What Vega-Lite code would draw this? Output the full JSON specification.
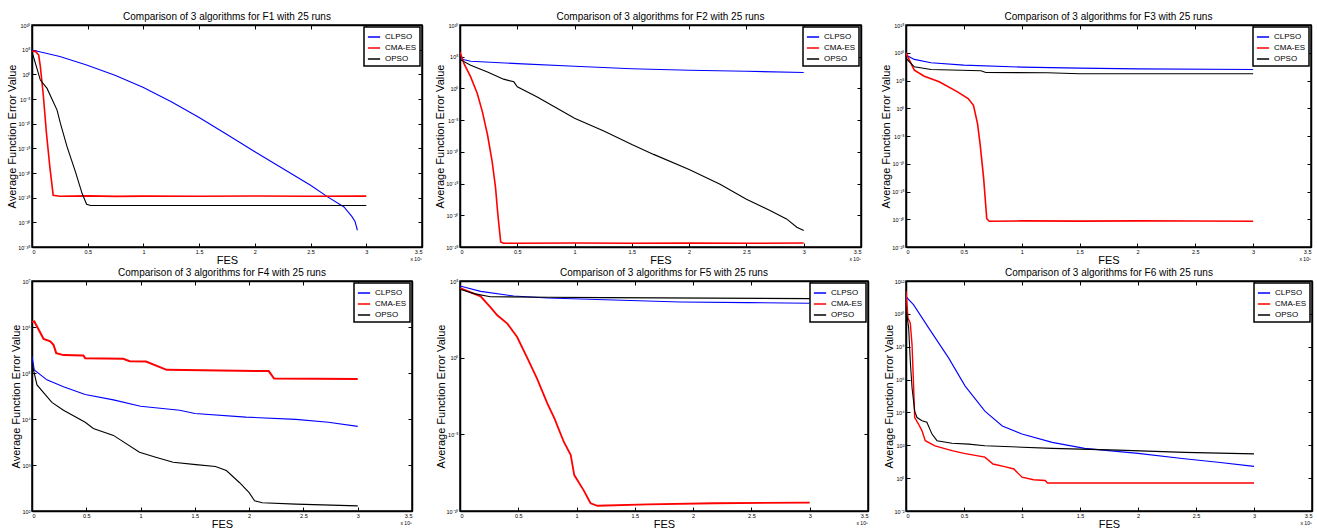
{
"$schema": "https://vega.github.io/schema/vega-lite/v6.json",
"background": "#ffffff",
"padding": {"left": 6, "top": 11, "right": 0, "bottom": 0},
"columns": 3,
"align": "none",
"bounds": "flush",
"spacing": {"row": 34, "column": 38},
"resolve": {"scale": {"color": "independent"}, "legend": {"color": "independent"}},
"datasets": {
"F1": [
{"a":"CLPSO","x":0,"y":8.5e4},{"a":"CLPSO","x":25000,"y":4e3},{"a":"CLPSO","x":49000,"y":76},{"a":"CLPSO","x":75000,"y":0.6},{"a":"CLPSO","x":100000,"y":2.2e-3},{"a":"CLPSO","x":125000,"y":2.8e-6},{"a":"CLPSO","x":150000,"y":1.8e-9},{"a":"CLPSO","x":175000,"y":6.3e-13},{"a":"CLPSO","x":200000,"y":2e-16},{"a":"CLPSO","x":225000,"y":7.9e-20},{"a":"CLPSO","x":250000,"y":3.2e-23},{"a":"CLPSO","x":265000,"y":1.6e-25},{"a":"CLPSO","x":280000,"y":1.3e-27},{"a":"CLPSO","x":287000,"y":1.6e-29},{"a":"CLPSO","x":290000,"y":1.3e-30},{"a":"CLPSO","x":292000,"y":2.5e-32},
{"a":"CMA-ES","x":0,"y":3.9e4},{"a":"CMA-ES","x":3000,"y":5e4},{"a":"CMA-ES","x":6000,"y":8.1e3},{"a":"CMA-ES","x":7500,"y":35},{"a":"CMA-ES","x":10000,"y":1.3e-4},{"a":"CMA-ES","x":13000,"y":1e-12},{"a":"CMA-ES","x":16000,"y":1.8e-19},{"a":"CMA-ES","x":19000,"y":3.2e-25},{"a":"CMA-ES","x":25000,"y":2e-25},{"a":"CMA-ES","x":50000,"y":2.3e-25},{"a":"CMA-ES","x":75000,"y":1.8e-25},{"a":"CMA-ES","x":100000,"y":2.1e-25},{"a":"CMA-ES","x":150000,"y":1.9e-25},{"a":"CMA-ES","x":200000,"y":2.2e-25},{"a":"CMA-ES","x":250000,"y":1.9e-25},{"a":"CMA-ES","x":300000,"y":2.1e-25},
{"a":"OPSO","x":0,"y":3.9e4},{"a":"OPSO","x":7500,"y":0.069},{"a":"OPSO","x":13500,"y":1.4e-3},{"a":"OPSO","x":22500,"y":5.6e-8},{"a":"OPSO","x":25500,"y":1.1e-10},{"a":"OPSO","x":31500,"y":2e-15},{"a":"OPSO","x":39000,"y":1.7e-20},{"a":"OPSO","x":45000,"y":6.8e-25},{"a":"OPSO","x":49000,"y":4.7e-27},{"a":"OPSO","x":52500,"y":2.5e-27},{"a":"OPSO","x":100000,"y":2.5e-27},{"a":"OPSO","x":200000,"y":2.5e-27},{"a":"OPSO","x":300000,"y":2.5e-27}
],
"F2": [
{"a":"CLPSO","x":0,"y":4.9e4},{"a":"CLPSO","x":9300,"y":1.9e4},{"a":"CLPSO","x":50000,"y":8.1e3},{"a":"CLPSO","x":100000,"y":3.1e3},{"a":"CLPSO","x":150000,"y":1.3e3},{"a":"CLPSO","x":200000,"y":720},{"a":"CLPSO","x":250000,"y":510},{"a":"CLPSO","x":300000,"y":316},
{"a":"CMA-ES","x":0,"y":5.4e5},{"a":"CMA-ES","x":3500,"y":7.9e3},{"a":"CMA-ES","x":9300,"y":66},{"a":"CMA-ES","x":15000,"y":0.17},{"a":"CMA-ES","x":19500,"y":2.2e-4},{"a":"CMA-ES","x":24000,"y":5e-8},{"a":"CMA-ES","x":28000,"y":3.5e-12},{"a":"CMA-ES","x":31000,"y":2.5e-16},{"a":"CMA-ES","x":33000,"y":1.6e-20},{"a":"CMA-ES","x":35500,"y":6.3e-25},{"a":"CMA-ES","x":38000,"y":4e-25},{"a":"CMA-ES","x":50000,"y":3.8e-25},{"a":"CMA-ES","x":100000,"y":4.2e-25},{"a":"CMA-ES","x":150000,"y":4e-25},{"a":"CMA-ES","x":200000,"y":4.1e-25},{"a":"CMA-ES","x":250000,"y":3.9e-25},{"a":"CMA-ES","x":300000,"y":4.2e-25},
{"a":"OPSO","x":0,"y":3.8e4},{"a":"OPSO","x":9300,"y":4.5e3},{"a":"OPSO","x":24000,"y":400},{"a":"OPSO","x":38000,"y":29},{"a":"OPSO","x":47000,"y":11},{"a":"OPSO","x":50000,"y":1.8},{"a":"OPSO","x":67000,"y":0.05},{"a":"OPSO","x":82000,"y":1.4e-3},{"a":"OPSO","x":100000,"y":2e-5},{"a":"OPSO","x":126000,"y":1.7e-7},{"a":"OPSO","x":150000,"y":1.4e-9},{"a":"OPSO","x":169000,"y":4e-11},{"a":"OPSO","x":200000,"y":1.7e-13},{"a":"OPSO","x":227000,"y":7.9e-16},{"a":"OPSO","x":250000,"y":3.5e-18},{"a":"OPSO","x":271000,"y":5.4e-20},{"a":"OPSO","x":285000,"y":2.7e-21},{"a":"OPSO","x":294000,"y":1.3e-22},{"a":"OPSO","x":300000,"y":4e-23}
],
"F3": [
{"a":"CLPSO","x":0,"y":3.8e9},{"a":"CLPSO","x":7200,"y":6.3e8},{"a":"CLPSO","x":21600,"y":1.55e8},{"a":"CLPSO","x":50000,"y":5.9e7},{"a":"CLPSO","x":100000,"y":2.6e7},{"a":"CLPSO","x":150000,"y":1.7e7},{"a":"CLPSO","x":200000,"y":1.26e7},{"a":"CLPSO","x":300000,"y":9.8e6},
{"a":"CMA-ES","x":0,"y":1e10},{"a":"CMA-ES","x":2900,"y":4.7e8},{"a":"CMA-ES","x":7200,"y":7.4e6},{"a":"CMA-ES","x":15800,"y":6e5},{"a":"CMA-ES","x":28700,"y":5.8e4},{"a":"CMA-ES","x":44500,"y":890},{"a":"CMA-ES","x":53700,"y":56},{"a":"CMA-ES","x":58300,"y":3.5},{"a":"CMA-ES","x":61800,"y":1.7e-3},{"a":"CMA-ES","x":64000,"y":4.1e-7},{"a":"CMA-ES","x":67000,"y":4e-13},{"a":"CMA-ES","x":69800,"y":1.26e-20},{"a":"CMA-ES","x":72000,"y":4.4e-21},{"a":"CMA-ES","x":100000,"y":5e-21},{"a":"CMA-ES","x":150000,"y":4.6e-21},{"a":"CMA-ES","x":200000,"y":5e-21},{"a":"CMA-ES","x":250000,"y":4.7e-21},{"a":"CMA-ES","x":300000,"y":4.5e-21},
{"a":"OPSO","x":0,"y":9.5e8},{"a":"OPSO","x":7200,"y":2.95e7},{"a":"OPSO","x":21600,"y":9.8e6},{"a":"OPSO","x":64700,"y":5.6e6},{"a":"OPSO","x":69000,"y":2.8e6},{"a":"OPSO","x":122000,"y":2.45e6},{"a":"OPSO","x":150000,"y":1.6e6},{"a":"OPSO","x":300000,"y":1.6e6}
],
"F4": [
{"a":"CLPSO","x":0,"y":2.3e5},{"a":"CLPSO","x":2100,"y":1.17e5},{"a":"CLPSO","x":13700,"y":7.1e4},{"a":"CLPSO","x":29000,"y":5e4},{"a":"CLPSO","x":49000,"y":3.4e4},{"a":"CLPSO","x":75000,"y":2.6e4},{"a":"CLPSO","x":100000,"y":1.9e4},{"a":"CLPSO","x":136000,"y":1.55e4},{"a":"CLPSO","x":150000,"y":1.32e4},{"a":"CLPSO","x":197000,"y":1.1e4},{"a":"CLPSO","x":243000,"y":9.8e3},{"a":"CLPSO","x":273000,"y":8.5e3},{"a":"CLPSO","x":300000,"y":6.9e3},
{"a":"CMA-ES","x":0,"y":1.29e6},{"a":"CMA-ES","x":2100,"y":1.32e6},{"a":"CMA-ES","x":4600,"y":1.03e6},{"a":"CMA-ES","x":10700,"y":5.5e5},{"a":"CMA-ES","x":16800,"y":4.9e5},{"a":"CMA-ES","x":19800,"y":4.1e5},{"a":"CMA-ES","x":22300,"y":2.7e5},{"a":"CMA-ES","x":29000,"y":2.45e5},{"a":"CMA-ES","x":47300,"y":2.4e5},{"a":"CMA-ES","x":49000,"y":2.1e5},{"a":"CMA-ES","x":84000,"y":2.04e5},{"a":"CMA-ES","x":90000,"y":1.8e5},{"a":"CMA-ES","x":105000,"y":1.78e5},{"a":"CMA-ES","x":124000,"y":1.17e5},{"a":"CMA-ES","x":218000,"y":1.1e5},{"a":"CMA-ES","x":223000,"y":7.6e4},{"a":"CMA-ES","x":300000,"y":7.4e4},
{"a":"OPSO","x":0,"y":1.6e5},{"a":"OPSO","x":4600,"y":5.5e4},{"a":"OPSO","x":18300,"y":2.3e4},{"a":"OPSO","x":29000,"y":1.55e4},{"a":"OPSO","x":49000,"y":8.5e3},{"a":"OPSO","x":56500,"y":6.2e3},{"a":"OPSO","x":75000,"y":4.4e3},{"a":"OPSO","x":99000,"y":1.9e3},{"a":"OPSO","x":114000,"y":1.48e3},{"a":"OPSO","x":130000,"y":1.15e3},{"a":"OPSO","x":151000,"y":1.02e3},{"a":"OPSO","x":169000,"y":930},{"a":"OPSO","x":179000,"y":760},{"a":"OPSO","x":191000,"y":417},{"a":"OPSO","x":200000,"y":251},{"a":"OPSO","x":205000,"y":166},{"a":"OPSO","x":212000,"y":151},{"a":"OPSO","x":243000,"y":141},{"a":"OPSO","x":300000,"y":129}
],
"F5": [
{"a":"CLPSO","x":0,"y":4.7e4},{"a":"CLPSO","x":17700,"y":2.1e4},{"a":"CLPSO","x":46000,"y":1.05e4},{"a":"CLPSO","x":75000,"y":7.8e3},{"a":"CLPSO","x":132000,"y":5.8e3},{"a":"CLPSO","x":189000,"y":4.3e3},{"a":"CLPSO","x":247000,"y":3.9e3},{"a":"CLPSO","x":300000,"y":3.5e3},
{"a":"CMA-ES","x":0,"y":3.5e4},{"a":"CMA-ES","x":17700,"y":1e4},{"a":"CMA-ES","x":26000,"y":2e3},{"a":"CMA-ES","x":32000,"y":580},{"a":"CMA-ES","x":40600,"y":166},{"a":"CMA-ES","x":49000,"y":22},{"a":"CMA-ES","x":58000,"y":0.87},{"a":"CMA-ES","x":66000,"y":0.044},{"a":"CMA-ES","x":75000,"y":1e-3},{"a":"CMA-ES","x":81000,"y":1.1e-4},{"a":"CMA-ES","x":89000,"y":3.3e-6},{"a":"CMA-ES","x":95000,"y":4.5e-7},{"a":"CMA-ES","x":98000,"y":2.2e-8},{"a":"CMA-ES","x":106000,"y":2.3e-9},{"a":"CMA-ES","x":112000,"y":3.2e-10},{"a":"CMA-ES","x":118000,"y":2.2e-10},{"a":"CMA-ES","x":161000,"y":2.7e-10},{"a":"CMA-ES","x":218000,"y":3.2e-10},{"a":"CMA-ES","x":300000,"y":3.5e-10},
{"a":"OPSO","x":0,"y":2.9e4},{"a":"OPSO","x":12000,"y":1.5e4},{"a":"OPSO","x":26000,"y":9.5e3},{"a":"OPSO","x":75000,"y":8.7e3},{"a":"OPSO","x":124000,"y":8.2e3},{"a":"OPSO","x":300000,"y":7.1e3}
],
"F6": [
{"a":"CLPSO","x":0,"y":1.1e11},{"a":"CLPSO","x":6600,"y":3.5e10},{"a":"CLPSO","x":19500,"y":1.4e9},{"a":"CLPSO","x":36700,"y":2.1e7},{"a":"CLPSO","x":51000,"y":4e5},{"a":"CLPSO","x":68000,"y":1.2e4},{"a":"CLPSO","x":83000,"y":1.5e3},{"a":"CLPSO","x":100000,"y":480},{"a":"CLPSO","x":126000,"y":150},{"a":"CLPSO","x":154000,"y":65},{"a":"CLPSO","x":200000,"y":32},{"a":"CLPSO","x":240000,"y":15},{"a":"CLPSO","x":269000,"y":9.3},{"a":"CLPSO","x":300000,"y":5.2},
{"a":"CMA-ES","x":0,"y":2.5e11},{"a":"CMA-ES","x":1700,"y":5.5e9},{"a":"CMA-ES","x":3700,"y":2.75e9},{"a":"CMA-ES","x":5200,"y":1.35e8},{"a":"CMA-ES","x":6600,"y":3.2e5},{"a":"CMA-ES","x":7500,"y":4.9e3},{"a":"CMA-ES","x":10900,"y":1.9e3},{"a":"CMA-ES","x":13800,"y":760},{"a":"CMA-ES","x":16600,"y":190},{"a":"CMA-ES","x":25000,"y":93},{"a":"CMA-ES","x":39600,"y":47},{"a":"CMA-ES","x":50000,"y":32},{"a":"CMA-ES","x":68000,"y":19},{"a":"CMA-ES","x":75000,"y":7.2},{"a":"CMA-ES","x":85000,"y":5},{"a":"CMA-ES","x":93000,"y":3.6},{"a":"CMA-ES","x":100000,"y":1.15},{"a":"CMA-ES","x":110000,"y":0.8},{"a":"CMA-ES","x":120000,"y":0.72},{"a":"CMA-ES","x":122000,"y":0.51},{"a":"CMA-ES","x":300000,"y":0.51},
{"a":"OPSO","x":0,"y":2.2e10},{"a":"OPSO","x":2300,"y":1.4e9},{"a":"OPSO","x":3700,"y":1.3e7},{"a":"OPSO","x":5200,"y":3.2e5},{"a":"OPSO","x":7500,"y":1.2e4},{"a":"OPSO","x":9500,"y":4.9e3},{"a":"OPSO","x":13800,"y":3.1e3},{"a":"OPSO","x":18000,"y":2.5e3},{"a":"OPSO","x":22400,"y":480},{"a":"OPSO","x":26700,"y":190},{"a":"OPSO","x":39600,"y":132},{"a":"OPSO","x":54000,"y":117},{"a":"OPSO","x":68000,"y":93},{"a":"OPSO","x":126000,"y":65},{"a":"OPSO","x":183000,"y":51},{"a":"OPSO","x":240000,"y":37},{"a":"OPSO","x":300000,"y":30}
]
},
"concat": [
{"width":390,"height":222,"title":"Comparison of 3 algorithms for F1 with 25 runs","data":{"name":"F1"},
"layer":[
{"mark":{"type":"line","clip":true},"encoding":{
"x":{"field":"x","type":"quantitative","scale":{"domain":[0,350000],"nice":false,"zero":false},"axis":{"title":"FES","values":[0,50000,100000,150000,200000,250000,300000,350000],"labelExpr":"'' + datum.value/100000"}},
"y":{"field":"y","type":"quantitative","scale":{"type":"log","domain":[1e-35,1e10],"nice":false},"axis":{"title":"Average Function Error Value","values":[1e10,1e5,1,1e-5,1e-10,1e-15,1e-20,1e-25,1e-30,1e-35],"labelExpr":"'10' + replace(replace(replace(replace(replace(replace(replace(replace(replace(replace(replace('' + round(log(datum.value)/LN10),'-','⁻'),'0','⁰'),'1','¹'),'2','²'),'3','³'),'4','⁴'),'5','⁵'),'6','⁶'),'7','⁷'),'8','⁸'),'9','⁹')"}},
"color":{"field":"a","type":"nominal","scale":{"domain":["CLPSO","CMA-ES","OPSO"],"range":["#0000ff","#ff0000","#000000"]},"legend":{"title":null}},
"strokeWidth":{"condition":{"test":"datum.a === 'CMA-ES'","value":1.6},"value":1.1}}},
{"mark":{"type":"line","opacity":0},"encoding":{
"x":{"field":"x","type":"quantitative","scale":{"domain":[0,350000],"nice":false,"zero":false},"axis":{"orient":"top","title":null,"labels":false,"values":[0,50000,100000,150000,200000,250000,300000,350000]}},
"y":{"field":"y","type":"quantitative","scale":{"type":"log","domain":[1e-35,1e10],"nice":false},"axis":{"orient":"right","title":null,"labels":false,"values":[1e10,1e5,1,1e-5,1e-10,1e-15,1e-20,1e-25,1e-30,1e-35]}}}},
{"data":{"values":[{"t":"x 10⁵"}]},"mark":{"type":"text","align":"right","baseline":"top","dy":10,"fontSize":5,"fill":"#000000"},"encoding":{"x":{"datum":350000,"type":"quantitative","axis":null},"y":{"datum":1e-35,"type":"quantitative","axis":null},"text":{"field":"t"}}}
],
"resolve":{"axis":{"x":"independent","y":"independent"}}},

{"width":401,"height":222,"title":"Comparison of 3 algorithms for F2 with 25 runs","data":{"name":"F2"},
"layer":[
{"mark":{"type":"line","clip":true},"encoding":{
"x":{"field":"x","type":"quantitative","scale":{"domain":[0,350000],"nice":false,"zero":false},"axis":{"title":"FES","values":[0,50000,100000,150000,200000,250000,300000,350000],"labelExpr":"'' + datum.value/100000"}},
"y":{"field":"y","type":"quantitative","scale":{"type":"log","domain":[1e-25,1e10],"nice":false},"axis":{"title":"Average Function Error Value","values":[1e10,1e5,1,1e-5,1e-10,1e-15,1e-20,1e-25],"labelExpr":"'10' + replace(replace(replace(replace(replace(replace(replace(replace(replace(replace(replace('' + round(log(datum.value)/LN10),'-','⁻'),'0','⁰'),'1','¹'),'2','²'),'3','³'),'4','⁴'),'5','⁵'),'6','⁶'),'7','⁷'),'8','⁸'),'9','⁹')"}},
"color":{"field":"a","type":"nominal","scale":{"domain":["CLPSO","CMA-ES","OPSO"],"range":["#0000ff","#ff0000","#000000"]},"legend":{"title":null}},
"strokeWidth":{"condition":{"test":"datum.a === 'CMA-ES'","value":1.6},"value":1.1}}},
{"mark":{"type":"line","opacity":0},"encoding":{
"x":{"field":"x","type":"quantitative","scale":{"domain":[0,350000],"nice":false,"zero":false},"axis":{"orient":"top","title":null,"labels":false,"values":[0,50000,100000,150000,200000,250000,300000,350000]}},
"y":{"field":"y","type":"quantitative","scale":{"type":"log","domain":[1e-25,1e10],"nice":false},"axis":{"orient":"right","title":null,"labels":false,"values":[1e10,1e5,1,1e-5,1e-10,1e-15,1e-20,1e-25]}}}},
{"data":{"values":[{"t":"x 10⁵"}]},"mark":{"type":"text","align":"right","baseline":"top","dy":10,"fontSize":5,"fill":"#000000"},"encoding":{"x":{"datum":350000,"type":"quantitative","axis":null},"y":{"datum":1e-25,"type":"quantitative","axis":null},"text":{"field":"t"}}}
],
"resolve":{"axis":{"x":"independent","y":"independent"}}},

{"width":405,"height":222,"title":"Comparison of 3 algorithms for F3 with 25 runs","data":{"name":"F3"},
"layer":[
{"mark":{"type":"line","clip":true},"encoding":{
"x":{"field":"x","type":"quantitative","scale":{"domain":[0,350000],"nice":false,"zero":false},"axis":{"title":"FES","values":[0,50000,100000,150000,200000,250000,300000,350000],"labelExpr":"'' + datum.value/100000"}},
"y":{"field":"y","type":"quantitative","scale":{"type":"log","domain":[1e-25,1e15],"nice":false},"axis":{"title":"Average Function Error Value","values":[1e15,1e10,1e5,1,1e-5,1e-10,1e-15,1e-20,1e-25],"labelExpr":"'10' + replace(replace(replace(replace(replace(replace(replace(replace(replace(replace(replace('' + round(log(datum.value)/LN10),'-','⁻'),'0','⁰'),'1','¹'),'2','²'),'3','³'),'4','⁴'),'5','⁵'),'6','⁶'),'7','⁷'),'8','⁸'),'9','⁹')"}},
"color":{"field":"a","type":"nominal","scale":{"domain":["CLPSO","CMA-ES","OPSO"],"range":["#0000ff","#ff0000","#000000"]},"legend":{"title":null}},
"strokeWidth":{"condition":{"test":"datum.a === 'CMA-ES'","value":1.6},"value":1.1}}},
{"mark":{"type":"line","opacity":0},"encoding":{
"x":{"field":"x","type":"quantitative","scale":{"domain":[0,350000],"nice":false,"zero":false},"axis":{"orient":"top","title":null,"labels":false,"values":[0,50000,100000,150000,200000,250000,300000,350000]}},
"y":{"field":"y","type":"quantitative","scale":{"type":"log","domain":[1e-25,1e15],"nice":false},"axis":{"orient":"right","title":null,"labels":false,"values":[1e15,1e10,1e5,1,1e-5,1e-10,1e-15,1e-20,1e-25]}}}},
{"data":{"values":[{"t":"x 10⁵"}]},"mark":{"type":"text","align":"right","baseline":"top","dy":10,"fontSize":5,"fill":"#000000"},"encoding":{"x":{"datum":350000,"type":"quantitative","axis":null},"y":{"datum":1e-25,"type":"quantitative","axis":null},"text":{"field":"t"}}}
],
"resolve":{"axis":{"x":"independent","y":"independent"}}},

{"width":380,"height":230,"title":"Comparison of 3 algorithms for F4 with 25 runs","data":{"name":"F4"},
"layer":[
{"mark":{"type":"line","clip":true},"encoding":{
"x":{"field":"x","type":"quantitative","scale":{"domain":[0,350000],"nice":false,"zero":false},"axis":{"title":"FES","values":[0,50000,100000,150000,200000,250000,300000,350000],"labelExpr":"'' + datum.value/100000"}},
"y":{"field":"y","type":"quantitative","scale":{"type":"log","domain":[1e2,1e7],"nice":false},"axis":{"title":"Average Function Error Value","values":[1e7,1e6,1e5,1e4,1e3,1e2],"labelExpr":"'10' + replace(replace(replace(replace(replace(replace(replace(replace(replace(replace(replace('' + round(log(datum.value)/LN10),'-','⁻'),'0','⁰'),'1','¹'),'2','²'),'3','³'),'4','⁴'),'5','⁵'),'6','⁶'),'7','⁷'),'8','⁸'),'9','⁹')"}},
"color":{"field":"a","type":"nominal","scale":{"domain":["CLPSO","CMA-ES","OPSO"],"range":["#0000ff","#ff0000","#000000"]},"legend":{"title":null}},
"strokeWidth":{"condition":{"test":"datum.a === 'CMA-ES'","value":2},"value":1.1}}},
{"mark":{"type":"line","opacity":0},"encoding":{
"x":{"field":"x","type":"quantitative","scale":{"domain":[0,350000],"nice":false,"zero":false},"axis":{"orient":"top","title":null,"labels":false,"values":[0,50000,100000,150000,200000,250000,300000,350000]}},
"y":{"field":"y","type":"quantitative","scale":{"type":"log","domain":[1e2,1e7],"nice":false},"axis":{"orient":"right","title":null,"labels":false,"values":[1e7,1e6,1e5,1e4,1e3,1e2]}}}},
{"data":{"values":[{"t":"x 10⁵"}]},"mark":{"type":"text","align":"right","baseline":"top","dy":10,"fontSize":5,"fill":"#000000"},"encoding":{"x":{"datum":350000,"type":"quantitative","axis":null},"y":{"datum":100,"type":"quantitative","axis":null},"text":{"field":"t"}}}
],
"resolve":{"axis":{"x":"independent","y":"independent"}}},

{"width":408,"height":230,"title":"Comparison of 3 algorithms for F5 with 25 runs","data":{"name":"F5"},
"layer":[
{"mark":{"type":"line","clip":true},"encoding":{
"x":{"field":"x","type":"quantitative","scale":{"domain":[0,350000],"nice":false,"zero":false},"axis":{"title":"FES","values":[0,50000,100000,150000,200000,250000,300000,350000],"labelExpr":"'' + datum.value/100000"}},
"y":{"field":"y","type":"quantitative","scale":{"type":"log","domain":[1e-10,1e5],"nice":false},"axis":{"title":"Average Function Error Value","values":[1e5,1,1e-5,1e-10],"labelExpr":"'10' + replace(replace(replace(replace(replace(replace(replace(replace(replace(replace(replace('' + round(log(datum.value)/LN10),'-','⁻'),'0','⁰'),'1','¹'),'2','²'),'3','³'),'4','⁴'),'5','⁵'),'6','⁶'),'7','⁷'),'8','⁸'),'9','⁹')"}},
"color":{"field":"a","type":"nominal","scale":{"domain":["CLPSO","CMA-ES","OPSO"],"range":["#0000ff","#ff0000","#000000"]},"legend":{"title":null}},
"strokeWidth":{"condition":{"test":"datum.a === 'CMA-ES'","value":1.8},"value":1.1}}},
{"mark":{"type":"line","opacity":0},"encoding":{
"x":{"field":"x","type":"quantitative","scale":{"domain":[0,350000],"nice":false,"zero":false},"axis":{"orient":"top","title":null,"labels":false,"values":[0,50000,100000,150000,200000,250000,300000,350000]}},
"y":{"field":"y","type":"quantitative","scale":{"type":"log","domain":[1e-10,1e5],"nice":false},"axis":{"orient":"right","title":null,"labels":false,"values":[1e5,1,1e-5,1e-10]}}}},
{"data":{"values":[{"t":"x 10⁵"}]},"mark":{"type":"text","align":"right","baseline":"top","dy":10,"fontSize":5,"fill":"#000000"},"encoding":{"x":{"datum":350000,"type":"quantitative","axis":null},"y":{"datum":1e-10,"type":"quantitative","axis":null},"text":{"field":"t"}}}
],
"resolve":{"axis":{"x":"independent","y":"independent"}}},

{"width":406,"height":230,"title":"Comparison of 3 algorithms for F6 with 25 runs","data":{"name":"F6"},
"layer":[
{"mark":{"type":"line","clip":true},"encoding":{
"x":{"field":"x","type":"quantitative","scale":{"domain":[0,350000],"nice":false,"zero":false},"axis":{"title":"FES","values":[0,50000,100000,150000,200000,250000,300000,350000],"labelExpr":"'' + datum.value/100000"}},
"y":{"field":"y","type":"quantitative","scale":{"type":"log","domain":[1e-2,1e12],"nice":false},"axis":{"title":"Average Function Error Value","values":[1e12,1e10,1e8,1e6,1e4,1e2,1,1e-2],"labelExpr":"'10' + replace(replace(replace(replace(replace(replace(replace(replace(replace(replace(replace('' + round(log(datum.value)/LN10),'-','⁻'),'0','⁰'),'1','¹'),'2','²'),'3','³'),'4','⁴'),'5','⁵'),'6','⁶'),'7','⁷'),'8','⁸'),'9','⁹')"}},
"color":{"field":"a","type":"nominal","scale":{"domain":["CLPSO","CMA-ES","OPSO"],"range":["#0000ff","#ff0000","#000000"]},"legend":{"title":null}},
"strokeWidth":{"condition":{"test":"datum.a === 'CMA-ES'","value":1.4},"value":1.1}}},
{"mark":{"type":"line","opacity":0},"encoding":{
"x":{"field":"x","type":"quantitative","scale":{"domain":[0,350000],"nice":false,"zero":false},"axis":{"orient":"top","title":null,"labels":false,"values":[0,50000,100000,150000,200000,250000,300000,350000]}},
"y":{"field":"y","type":"quantitative","scale":{"type":"log","domain":[1e-2,1e12],"nice":false},"axis":{"orient":"right","title":null,"labels":false,"values":[1e12,1e10,1e8,1e6,1e4,1e2,1,1e-2]}}}},
{"data":{"values":[{"t":"x 10⁵"}]},"mark":{"type":"text","align":"right","baseline":"top","dy":10,"fontSize":5,"fill":"#000000"},"encoding":{"x":{"datum":350000,"type":"quantitative","axis":null},"y":{"datum":0.01,"type":"quantitative","axis":null},"text":{"field":"t"}}}
],
"resolve":{"axis":{"x":"independent","y":"independent"}}}
],
"config": {
"font": "Liberation Sans",
"view": {"stroke": "#000000", "strokeWidth": 1.5},
"axis": {"domain": true, "domainColor": "#000000", "domainWidth": 1.5, "grid": false, "tickColor": "#000000", "tickSize": -4, "tickWidth": 1, "labelFontSize": 5.5, "labelColor": "#000000", "labelPadding": 6, "titleFontSize": 11, "titleFontWeight": "normal", "titleColor": "#000000", "titlePadding": 0},
"axisX": {"titlePadding": 0},
"title": {"fontSize": 10, "fontWeight": "normal", "color": "#000000", "offset": 1, "frame": "group"},
"legend": {"orient": "top-right", "offset": 2, "strokeColor": "#000000", "strokeWidth": 1.5, "fillColor": "#ffffff", "padding": 3, "symbolType": "stroke", "symbolSize": 150, "symbolStrokeWidth": 1.5, "labelFontSize": 8, "labelColor": "#000000", "rowPadding": 0, "labelOffset": 4}
}
}
